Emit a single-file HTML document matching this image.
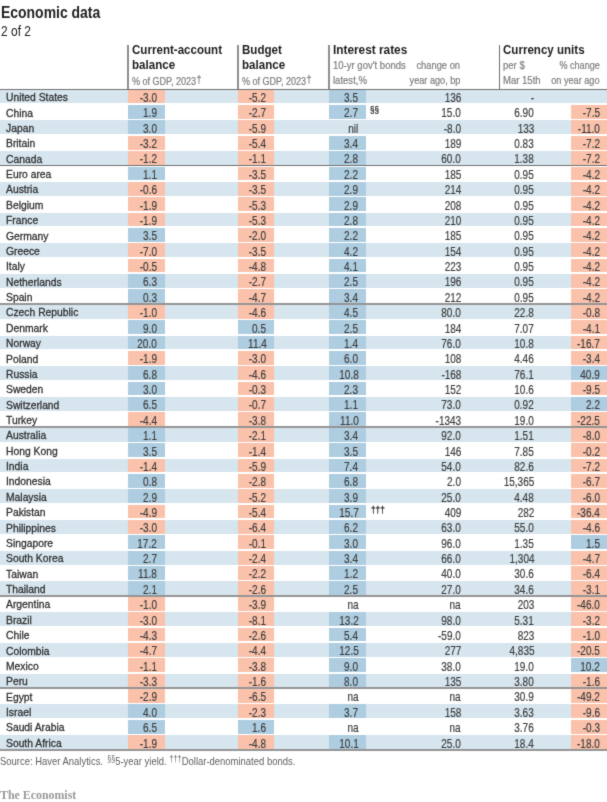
<!DOCTYPE html>
<html><head><meta charset="utf-8"><style>
html,body{margin:0;padding:0;background:#fff;}
body{width:607px;height:802px;overflow:hidden;position:relative;font-family:"Liberation Sans",sans-serif;color:#2e2e2e;}
.a{position:absolute;white-space:nowrap;}
.t{position:absolute;white-space:nowrap;line-height:1;}
.r{position:absolute;left:0;width:607px;height:13.75px;}
.s{background:#d6e5ee;}
.c{position:absolute;top:0;height:13.75px;}
.d{position:absolute;white-space:nowrap;font-size:11.8px;line-height:1;top:0;-webkit-text-stroke:0.3px #2e2e2e;}
.R{transform-origin:100% 0;}
.L{transform-origin:0 0;}
.n{font-size:12.2px;color:#3c3c3c;transform:scaleX(0.82);-webkit-text-stroke:0.18px #3c3c3c;}
.vl{position:absolute;width:1.3px;background:#7d7d7d;}
.hl{position:absolute;left:0;width:607px;background:#7d7d7d;}
.gl{position:absolute;left:0;width:607px;height:1px;background:#6a6a6a;}
.bl{position:absolute;left:0;width:607px;height:2px;background:#959595;}
.hd{font-weight:bold;font-size:12.5px;line-height:14px;color:#1e1e1e;}
.sub{color:#7c7c7c;font-size:10.5px;-webkit-text-stroke:0.2px #7c7c7c;}
</style></head><body><svg width="0" height="0" style="position:absolute"><filter id="sf" x="0" y="0" width="100%" height="100%" color-interpolation-filters="sRGB"><feConvolveMatrix order="3" kernelMatrix="0.02 0.08 0.02 0.08 0.6 0.08 0.02 0.08 0.02" edgeMode="duplicate"/></filter></svg><div id="wrap" style="position:absolute;left:0;top:0;width:607px;height:802px;background:#fff;filter:url(#sf)">

<div class="t L" style="left:0.6px;top:5.2px;font-weight:bold;font-size:16px;color:#222;transform:scaleX(0.872)">Economic data</div>
<div class="t L" style="left:0.8px;top:25.3px;font-size:13.8px;color:#222;transform:scaleX(0.87)">2 of 2</div>
<div class="vl" style="left:127px;width:2px;background:#8f8f8f;top:45px;height:44px"></div>
<div class="vl" style="left:237px;width:2px;background:#8f8f8f;top:45px;height:44px"></div>
<div class="vl" style="left:328px;width:2px;background:#8f8f8f;top:45px;height:44px"></div>
<div class="vl" style="left:499px;width:1px;background:#707070;top:45px;height:44px"></div>
<div class="t L hd" style="left:132.4px;top:43.4px;transform:scaleX(0.926)">Current-account</div>
<div class="t L hd" style="left:132.4px;top:57.6px;transform:scaleX(0.926)">balance</div>
<div class="t L sub" style="left:132.4px;top:73.8px;transform:scaleX(0.86)">% of GDP, 2023<span style="font-size:10.5px;vertical-align:2px;margin-left:0.6px">†</span></div>
<div class="t L hd" style="left:241.7px;top:43.4px;transform:scaleX(0.926)">Budget</div>
<div class="t L hd" style="left:241.7px;top:57.6px;transform:scaleX(0.926)">balance</div>
<div class="t L sub" style="left:241.7px;top:73.8px;transform:scaleX(0.86)">% of GDP, 2023<span style="font-size:10.5px;vertical-align:2px;margin-left:0.6px">†</span></div>
<div class="t L hd" style="left:332.7px;top:43.3px;transform:scaleX(0.946)">Interest rates</div>
<div class="t L sub" style="left:333px;top:59.8px;transform:scaleX(0.908)">10-yr gov't bonds</div>
<div class="t L sub" style="left:333px;top:75px;transform:scaleX(0.908)">latest,%</div>
<div class="t R sub" style="right:146.60000000000002px;top:59.8px;transform:scaleX(0.89)">change on</div>
<div class="t R sub" style="right:146.60000000000002px;top:75px;transform:scaleX(0.87)">year ago, bp</div>
<div class="t L hd" style="left:503.1px;top:43.3px;transform:scaleX(0.925)">Currency units</div>
<div class="t L sub" style="left:503.3px;top:59.8px;transform:scaleX(0.908)">per $</div>
<div class="t L sub" style="left:503.3px;top:75px;transform:scaleX(0.908)">Mar 15th</div>
<div class="t R sub" style="right:7.2999999999999545px;top:59.8px;transform:scaleX(0.86)">% change</div>
<div class="t R sub" style="right:7.2999999999999545px;top:75.3px;transform:scaleX(0.87)">on year ago</div>
<div class="r s" style="top:89.65px">
<div class="c" style="left:127.8px;width:37.2px;background:#fac2ab"></div>
<div class="c" style="left:237.6px;width:36.5px;background:#fac2ab"></div>
<div class="c" style="left:329.2px;width:36.5px;background:#aecde0"></div>
<div class="d L" style="left:6.1px;top:2.6px;transform:scaleX(0.875)">United States</div>
<div class="d R n" style="right:449.8px;top:2.35px">-3.0</div>
<div class="d R n" style="right:340.6px;top:2.35px">-5.2</div>
<div class="d R n" style="right:248.6px;top:2.35px">3.5</div>
<div class="d R n" style="right:146.0px;top:2.35px">136</div>
<div class="d R n" style="right:73.0px;top:2.35px">-</div>
</div>
<div class="r" style="top:105.02px">
<div class="c" style="left:127.8px;width:37.2px;background:#aecde0"></div>
<div class="c" style="left:237.6px;width:36.5px;background:#fac2ab"></div>
<div class="c" style="left:329.2px;width:36.5px;background:#aecde0"></div>
<div class="c" style="left:570.6px;width:36.4px;background:#fac2ab"></div>
<div class="d L" style="left:6.1px;top:2.6px;transform:scaleX(0.875)">China</div>
<div class="d R n" style="right:449.8px;top:2.35px">1.9</div>
<div class="d R n" style="right:340.6px;top:2.35px">-2.7</div>
<div class="d R n" style="right:248.6px;top:2.35px">2.7</div>
<div class="d L" style="left:370.3px;top:0.2px;font-size:9.5px;transform:scaleX(0.85)">§§</div>
<div class="d R n" style="right:146.0px;top:2.35px">15.0</div>
<div class="d R n" style="right:73.0px;top:2.35px">6.90</div>
<div class="d R n" style="right:7.2px;top:2.35px">-7.5</div>
</div>
<div class="r s" style="top:120.39px">
<div class="c" style="left:127.8px;width:37.2px;background:#aecde0"></div>
<div class="c" style="left:237.6px;width:36.5px;background:#fac2ab"></div>
<div class="c" style="left:570.6px;width:36.4px;background:#fac2ab"></div>
<div class="d L" style="left:6.1px;top:2.6px;transform:scaleX(0.875)">Japan</div>
<div class="d R n" style="right:449.8px;top:2.35px">3.0</div>
<div class="d R n" style="right:340.6px;top:2.35px">-5.9</div>
<div class="d R n" style="right:248.6px;top:2.35px">nil</div>
<div class="d R n" style="right:146.0px;top:2.35px">-8.0</div>
<div class="d R n" style="right:73.0px;top:2.35px">133</div>
<div class="d R n" style="right:7.2px;top:2.35px">-11.0</div>
</div>
<div class="r" style="top:135.76px">
<div class="c" style="left:127.8px;width:37.2px;background:#fac2ab"></div>
<div class="c" style="left:237.6px;width:36.5px;background:#fac2ab"></div>
<div class="c" style="left:329.2px;width:36.5px;background:#aecde0"></div>
<div class="c" style="left:570.6px;width:36.4px;background:#fac2ab"></div>
<div class="d L" style="left:6.1px;top:2.6px;transform:scaleX(0.875)">Britain</div>
<div class="d R n" style="right:449.8px;top:2.35px">-3.2</div>
<div class="d R n" style="right:340.6px;top:2.35px">-5.4</div>
<div class="d R n" style="right:248.6px;top:2.35px">3.4</div>
<div class="d R n" style="right:146.0px;top:2.35px">189</div>
<div class="d R n" style="right:73.0px;top:2.35px">0.83</div>
<div class="d R n" style="right:7.2px;top:2.35px">-7.2</div>
</div>
<div class="r s" style="top:151.13px">
<div class="c" style="left:127.8px;width:37.2px;background:#fac2ab"></div>
<div class="c" style="left:237.6px;width:36.5px;background:#fac2ab"></div>
<div class="c" style="left:329.2px;width:36.5px;background:#aecde0"></div>
<div class="c" style="left:570.6px;width:36.4px;background:#fac2ab"></div>
<div class="d L" style="left:6.1px;top:2.6px;transform:scaleX(0.875)">Canada</div>
<div class="d R n" style="right:449.8px;top:2.35px">-1.2</div>
<div class="d R n" style="right:340.6px;top:2.35px">-1.1</div>
<div class="d R n" style="right:248.6px;top:2.35px">2.8</div>
<div class="d R n" style="right:146.0px;top:2.35px">60.0</div>
<div class="d R n" style="right:73.0px;top:2.35px">1.38</div>
<div class="d R n" style="right:7.2px;top:2.35px">-7.2</div>
</div>
<div class="r" style="top:166.50px">
<div class="c" style="left:127.8px;width:37.2px;background:#aecde0"></div>
<div class="c" style="left:237.6px;width:36.5px;background:#fac2ab"></div>
<div class="c" style="left:329.2px;width:36.5px;background:#aecde0"></div>
<div class="c" style="left:570.6px;width:36.4px;background:#fac2ab"></div>
<div class="d L" style="left:6.1px;top:2.6px;transform:scaleX(0.875)">Euro area</div>
<div class="d R n" style="right:449.8px;top:2.35px">1.1</div>
<div class="d R n" style="right:340.6px;top:2.35px">-3.5</div>
<div class="d R n" style="right:248.6px;top:2.35px">2.2</div>
<div class="d R n" style="right:146.0px;top:2.35px">185</div>
<div class="d R n" style="right:73.0px;top:2.35px">0.95</div>
<div class="d R n" style="right:7.2px;top:2.35px">-4.2</div>
</div>
<div class="r s" style="top:181.87px">
<div class="c" style="left:127.8px;width:37.2px;background:#fac2ab"></div>
<div class="c" style="left:237.6px;width:36.5px;background:#fac2ab"></div>
<div class="c" style="left:329.2px;width:36.5px;background:#aecde0"></div>
<div class="c" style="left:570.6px;width:36.4px;background:#fac2ab"></div>
<div class="d L" style="left:6.1px;top:2.6px;transform:scaleX(0.875)">Austria</div>
<div class="d R n" style="right:449.8px;top:2.35px">-0.6</div>
<div class="d R n" style="right:340.6px;top:2.35px">-3.5</div>
<div class="d R n" style="right:248.6px;top:2.35px">2.9</div>
<div class="d R n" style="right:146.0px;top:2.35px">214</div>
<div class="d R n" style="right:73.0px;top:2.35px">0.95</div>
<div class="d R n" style="right:7.2px;top:2.35px">-4.2</div>
</div>
<div class="r" style="top:197.24px">
<div class="c" style="left:127.8px;width:37.2px;background:#fac2ab"></div>
<div class="c" style="left:237.6px;width:36.5px;background:#fac2ab"></div>
<div class="c" style="left:329.2px;width:36.5px;background:#aecde0"></div>
<div class="c" style="left:570.6px;width:36.4px;background:#fac2ab"></div>
<div class="d L" style="left:6.1px;top:2.6px;transform:scaleX(0.875)">Belgium</div>
<div class="d R n" style="right:449.8px;top:2.35px">-1.9</div>
<div class="d R n" style="right:340.6px;top:2.35px">-5.3</div>
<div class="d R n" style="right:248.6px;top:2.35px">2.9</div>
<div class="d R n" style="right:146.0px;top:2.35px">208</div>
<div class="d R n" style="right:73.0px;top:2.35px">0.95</div>
<div class="d R n" style="right:7.2px;top:2.35px">-4.2</div>
</div>
<div class="r s" style="top:212.61px">
<div class="c" style="left:127.8px;width:37.2px;background:#fac2ab"></div>
<div class="c" style="left:237.6px;width:36.5px;background:#fac2ab"></div>
<div class="c" style="left:329.2px;width:36.5px;background:#aecde0"></div>
<div class="c" style="left:570.6px;width:36.4px;background:#fac2ab"></div>
<div class="d L" style="left:6.1px;top:2.6px;transform:scaleX(0.875)">France</div>
<div class="d R n" style="right:449.8px;top:2.35px">-1.9</div>
<div class="d R n" style="right:340.6px;top:2.35px">-5.3</div>
<div class="d R n" style="right:248.6px;top:2.35px">2.8</div>
<div class="d R n" style="right:146.0px;top:2.35px">210</div>
<div class="d R n" style="right:73.0px;top:2.35px">0.95</div>
<div class="d R n" style="right:7.2px;top:2.35px">-4.2</div>
</div>
<div class="r" style="top:227.98px">
<div class="c" style="left:127.8px;width:37.2px;background:#aecde0"></div>
<div class="c" style="left:237.6px;width:36.5px;background:#fac2ab"></div>
<div class="c" style="left:329.2px;width:36.5px;background:#aecde0"></div>
<div class="c" style="left:570.6px;width:36.4px;background:#fac2ab"></div>
<div class="d L" style="left:6.1px;top:2.6px;transform:scaleX(0.875)">Germany</div>
<div class="d R n" style="right:449.8px;top:2.35px">3.5</div>
<div class="d R n" style="right:340.6px;top:2.35px">-2.0</div>
<div class="d R n" style="right:248.6px;top:2.35px">2.2</div>
<div class="d R n" style="right:146.0px;top:2.35px">185</div>
<div class="d R n" style="right:73.0px;top:2.35px">0.95</div>
<div class="d R n" style="right:7.2px;top:2.35px">-4.2</div>
</div>
<div class="r s" style="top:243.35px">
<div class="c" style="left:127.8px;width:37.2px;background:#fac2ab"></div>
<div class="c" style="left:237.6px;width:36.5px;background:#fac2ab"></div>
<div class="c" style="left:329.2px;width:36.5px;background:#aecde0"></div>
<div class="c" style="left:570.6px;width:36.4px;background:#fac2ab"></div>
<div class="d L" style="left:6.1px;top:2.6px;transform:scaleX(0.875)">Greece</div>
<div class="d R n" style="right:449.8px;top:2.35px">-7.0</div>
<div class="d R n" style="right:340.6px;top:2.35px">-3.5</div>
<div class="d R n" style="right:248.6px;top:2.35px">4.2</div>
<div class="d R n" style="right:146.0px;top:2.35px">154</div>
<div class="d R n" style="right:73.0px;top:2.35px">0.95</div>
<div class="d R n" style="right:7.2px;top:2.35px">-4.2</div>
</div>
<div class="r" style="top:258.72px">
<div class="c" style="left:127.8px;width:37.2px;background:#fac2ab"></div>
<div class="c" style="left:237.6px;width:36.5px;background:#fac2ab"></div>
<div class="c" style="left:329.2px;width:36.5px;background:#aecde0"></div>
<div class="c" style="left:570.6px;width:36.4px;background:#fac2ab"></div>
<div class="d L" style="left:6.1px;top:2.6px;transform:scaleX(0.875)">Italy</div>
<div class="d R n" style="right:449.8px;top:2.35px">-0.5</div>
<div class="d R n" style="right:340.6px;top:2.35px">-4.8</div>
<div class="d R n" style="right:248.6px;top:2.35px">4.1</div>
<div class="d R n" style="right:146.0px;top:2.35px">223</div>
<div class="d R n" style="right:73.0px;top:2.35px">0.95</div>
<div class="d R n" style="right:7.2px;top:2.35px">-4.2</div>
</div>
<div class="r s" style="top:274.09px">
<div class="c" style="left:127.8px;width:37.2px;background:#aecde0"></div>
<div class="c" style="left:237.6px;width:36.5px;background:#fac2ab"></div>
<div class="c" style="left:329.2px;width:36.5px;background:#aecde0"></div>
<div class="c" style="left:570.6px;width:36.4px;background:#fac2ab"></div>
<div class="d L" style="left:6.1px;top:2.6px;transform:scaleX(0.875)">Netherlands</div>
<div class="d R n" style="right:449.8px;top:2.35px">6.3</div>
<div class="d R n" style="right:340.6px;top:2.35px">-2.7</div>
<div class="d R n" style="right:248.6px;top:2.35px">2.5</div>
<div class="d R n" style="right:146.0px;top:2.35px">196</div>
<div class="d R n" style="right:73.0px;top:2.35px">0.95</div>
<div class="d R n" style="right:7.2px;top:2.35px">-4.2</div>
</div>
<div class="r" style="top:289.46px">
<div class="c" style="left:127.8px;width:37.2px;background:#aecde0"></div>
<div class="c" style="left:237.6px;width:36.5px;background:#fac2ab"></div>
<div class="c" style="left:329.2px;width:36.5px;background:#aecde0"></div>
<div class="c" style="left:570.6px;width:36.4px;background:#fac2ab"></div>
<div class="d L" style="left:6.1px;top:2.6px;transform:scaleX(0.875)">Spain</div>
<div class="d R n" style="right:449.8px;top:2.35px">0.3</div>
<div class="d R n" style="right:340.6px;top:2.35px">-4.7</div>
<div class="d R n" style="right:248.6px;top:2.35px">3.4</div>
<div class="d R n" style="right:146.0px;top:2.35px">212</div>
<div class="d R n" style="right:73.0px;top:2.35px">0.95</div>
<div class="d R n" style="right:7.2px;top:2.35px">-4.2</div>
</div>
<div class="r s" style="top:304.83px">
<div class="c" style="left:127.8px;width:37.2px;background:#fac2ab"></div>
<div class="c" style="left:237.6px;width:36.5px;background:#fac2ab"></div>
<div class="c" style="left:329.2px;width:36.5px;background:#aecde0"></div>
<div class="c" style="left:570.6px;width:36.4px;background:#fac2ab"></div>
<div class="d L" style="left:6.1px;top:2.6px;transform:scaleX(0.875)">Czech Republic</div>
<div class="d R n" style="right:449.8px;top:2.35px">-1.0</div>
<div class="d R n" style="right:340.6px;top:2.35px">-4.6</div>
<div class="d R n" style="right:248.6px;top:2.35px">4.5</div>
<div class="d R n" style="right:146.0px;top:2.35px">80.0</div>
<div class="d R n" style="right:73.0px;top:2.35px">22.8</div>
<div class="d R n" style="right:7.2px;top:2.35px">-0.8</div>
</div>
<div class="r" style="top:320.20px">
<div class="c" style="left:127.8px;width:37.2px;background:#aecde0"></div>
<div class="c" style="left:237.6px;width:36.5px;background:#aecde0"></div>
<div class="c" style="left:329.2px;width:36.5px;background:#aecde0"></div>
<div class="c" style="left:570.6px;width:36.4px;background:#fac2ab"></div>
<div class="d L" style="left:6.1px;top:2.6px;transform:scaleX(0.875)">Denmark</div>
<div class="d R n" style="right:449.8px;top:2.35px">9.0</div>
<div class="d R n" style="right:340.6px;top:2.35px">0.5</div>
<div class="d R n" style="right:248.6px;top:2.35px">2.5</div>
<div class="d R n" style="right:146.0px;top:2.35px">184</div>
<div class="d R n" style="right:73.0px;top:2.35px">7.07</div>
<div class="d R n" style="right:7.2px;top:2.35px">-4.1</div>
</div>
<div class="r s" style="top:335.57px">
<div class="c" style="left:127.8px;width:37.2px;background:#aecde0"></div>
<div class="c" style="left:237.6px;width:36.5px;background:#aecde0"></div>
<div class="c" style="left:329.2px;width:36.5px;background:#aecde0"></div>
<div class="c" style="left:570.6px;width:36.4px;background:#fac2ab"></div>
<div class="d L" style="left:6.1px;top:2.6px;transform:scaleX(0.875)">Norway</div>
<div class="d R n" style="right:449.8px;top:2.35px">20.0</div>
<div class="d R n" style="right:340.6px;top:2.35px">11.4</div>
<div class="d R n" style="right:248.6px;top:2.35px">1.4</div>
<div class="d R n" style="right:146.0px;top:2.35px">76.0</div>
<div class="d R n" style="right:73.0px;top:2.35px">10.8</div>
<div class="d R n" style="right:7.2px;top:2.35px">-16.7</div>
</div>
<div class="r" style="top:350.94px">
<div class="c" style="left:127.8px;width:37.2px;background:#fac2ab"></div>
<div class="c" style="left:237.6px;width:36.5px;background:#fac2ab"></div>
<div class="c" style="left:329.2px;width:36.5px;background:#aecde0"></div>
<div class="c" style="left:570.6px;width:36.4px;background:#fac2ab"></div>
<div class="d L" style="left:6.1px;top:2.6px;transform:scaleX(0.875)">Poland</div>
<div class="d R n" style="right:449.8px;top:2.35px">-1.9</div>
<div class="d R n" style="right:340.6px;top:2.35px">-3.0</div>
<div class="d R n" style="right:248.6px;top:2.35px">6.0</div>
<div class="d R n" style="right:146.0px;top:2.35px">108</div>
<div class="d R n" style="right:73.0px;top:2.35px">4.46</div>
<div class="d R n" style="right:7.2px;top:2.35px">-3.4</div>
</div>
<div class="r s" style="top:366.31px">
<div class="c" style="left:127.8px;width:37.2px;background:#aecde0"></div>
<div class="c" style="left:237.6px;width:36.5px;background:#fac2ab"></div>
<div class="c" style="left:329.2px;width:36.5px;background:#aecde0"></div>
<div class="c" style="left:570.6px;width:36.4px;background:#aecde0"></div>
<div class="d L" style="left:6.1px;top:2.6px;transform:scaleX(0.875)">Russia</div>
<div class="d R n" style="right:449.8px;top:2.35px">6.8</div>
<div class="d R n" style="right:340.6px;top:2.35px">-4.6</div>
<div class="d R n" style="right:248.6px;top:2.35px">10.8</div>
<div class="d R n" style="right:146.0px;top:2.35px">-168</div>
<div class="d R n" style="right:73.0px;top:2.35px">76.1</div>
<div class="d R n" style="right:7.2px;top:2.35px">40.9</div>
</div>
<div class="r" style="top:381.68px">
<div class="c" style="left:127.8px;width:37.2px;background:#aecde0"></div>
<div class="c" style="left:237.6px;width:36.5px;background:#fac2ab"></div>
<div class="c" style="left:329.2px;width:36.5px;background:#aecde0"></div>
<div class="c" style="left:570.6px;width:36.4px;background:#fac2ab"></div>
<div class="d L" style="left:6.1px;top:2.6px;transform:scaleX(0.875)">Sweden</div>
<div class="d R n" style="right:449.8px;top:2.35px">3.0</div>
<div class="d R n" style="right:340.6px;top:2.35px">-0.3</div>
<div class="d R n" style="right:248.6px;top:2.35px">2.3</div>
<div class="d R n" style="right:146.0px;top:2.35px">152</div>
<div class="d R n" style="right:73.0px;top:2.35px">10.6</div>
<div class="d R n" style="right:7.2px;top:2.35px">-9.5</div>
</div>
<div class="r s" style="top:397.05px">
<div class="c" style="left:127.8px;width:37.2px;background:#aecde0"></div>
<div class="c" style="left:237.6px;width:36.5px;background:#fac2ab"></div>
<div class="c" style="left:329.2px;width:36.5px;background:#aecde0"></div>
<div class="c" style="left:570.6px;width:36.4px;background:#aecde0"></div>
<div class="d L" style="left:6.1px;top:2.6px;transform:scaleX(0.875)">Switzerland</div>
<div class="d R n" style="right:449.8px;top:2.35px">6.5</div>
<div class="d R n" style="right:340.6px;top:2.35px">-0.7</div>
<div class="d R n" style="right:248.6px;top:2.35px">1.1</div>
<div class="d R n" style="right:146.0px;top:2.35px">73.0</div>
<div class="d R n" style="right:73.0px;top:2.35px">0.92</div>
<div class="d R n" style="right:7.2px;top:2.35px">2.2</div>
</div>
<div class="r" style="top:412.42px">
<div class="c" style="left:127.8px;width:37.2px;background:#fac2ab"></div>
<div class="c" style="left:237.6px;width:36.5px;background:#fac2ab"></div>
<div class="c" style="left:329.2px;width:36.5px;background:#aecde0"></div>
<div class="c" style="left:570.6px;width:36.4px;background:#fac2ab"></div>
<div class="d L" style="left:6.1px;top:2.6px;transform:scaleX(0.875)">Turkey</div>
<div class="d R n" style="right:449.8px;top:2.35px">-4.4</div>
<div class="d R n" style="right:340.6px;top:2.35px">-3.8</div>
<div class="d R n" style="right:248.6px;top:2.35px">11.0</div>
<div class="d R n" style="right:146.0px;top:2.35px">-1343</div>
<div class="d R n" style="right:73.0px;top:2.35px">19.0</div>
<div class="d R n" style="right:7.2px;top:2.35px">-22.5</div>
</div>
<div class="r s" style="top:427.79px">
<div class="c" style="left:127.8px;width:37.2px;background:#aecde0"></div>
<div class="c" style="left:237.6px;width:36.5px;background:#fac2ab"></div>
<div class="c" style="left:329.2px;width:36.5px;background:#aecde0"></div>
<div class="c" style="left:570.6px;width:36.4px;background:#fac2ab"></div>
<div class="d L" style="left:6.1px;top:2.6px;transform:scaleX(0.875)">Australia</div>
<div class="d R n" style="right:449.8px;top:2.35px">1.1</div>
<div class="d R n" style="right:340.6px;top:2.35px">-2.1</div>
<div class="d R n" style="right:248.6px;top:2.35px">3.4</div>
<div class="d R n" style="right:146.0px;top:2.35px">92.0</div>
<div class="d R n" style="right:73.0px;top:2.35px">1.51</div>
<div class="d R n" style="right:7.2px;top:2.35px">-8.0</div>
</div>
<div class="r" style="top:443.16px">
<div class="c" style="left:127.8px;width:37.2px;background:#aecde0"></div>
<div class="c" style="left:237.6px;width:36.5px;background:#fac2ab"></div>
<div class="c" style="left:329.2px;width:36.5px;background:#aecde0"></div>
<div class="c" style="left:570.6px;width:36.4px;background:#fac2ab"></div>
<div class="d L" style="left:6.1px;top:2.6px;transform:scaleX(0.875)">Hong Kong</div>
<div class="d R n" style="right:449.8px;top:2.35px">3.5</div>
<div class="d R n" style="right:340.6px;top:2.35px">-1.4</div>
<div class="d R n" style="right:248.6px;top:2.35px">3.5</div>
<div class="d R n" style="right:146.0px;top:2.35px">146</div>
<div class="d R n" style="right:73.0px;top:2.35px">7.85</div>
<div class="d R n" style="right:7.2px;top:2.35px">-0.2</div>
</div>
<div class="r s" style="top:458.53px">
<div class="c" style="left:127.8px;width:37.2px;background:#fac2ab"></div>
<div class="c" style="left:237.6px;width:36.5px;background:#fac2ab"></div>
<div class="c" style="left:329.2px;width:36.5px;background:#aecde0"></div>
<div class="c" style="left:570.6px;width:36.4px;background:#fac2ab"></div>
<div class="d L" style="left:6.1px;top:2.6px;transform:scaleX(0.875)">India</div>
<div class="d R n" style="right:449.8px;top:2.35px">-1.4</div>
<div class="d R n" style="right:340.6px;top:2.35px">-5.9</div>
<div class="d R n" style="right:248.6px;top:2.35px">7.4</div>
<div class="d R n" style="right:146.0px;top:2.35px">54.0</div>
<div class="d R n" style="right:73.0px;top:2.35px">82.6</div>
<div class="d R n" style="right:7.2px;top:2.35px">-7.2</div>
</div>
<div class="r" style="top:473.90px">
<div class="c" style="left:127.8px;width:37.2px;background:#aecde0"></div>
<div class="c" style="left:237.6px;width:36.5px;background:#fac2ab"></div>
<div class="c" style="left:329.2px;width:36.5px;background:#aecde0"></div>
<div class="c" style="left:570.6px;width:36.4px;background:#fac2ab"></div>
<div class="d L" style="left:6.1px;top:2.6px;transform:scaleX(0.875)">Indonesia</div>
<div class="d R n" style="right:449.8px;top:2.35px">0.8</div>
<div class="d R n" style="right:340.6px;top:2.35px">-2.8</div>
<div class="d R n" style="right:248.6px;top:2.35px">6.8</div>
<div class="d R n" style="right:146.0px;top:2.35px">2.0</div>
<div class="d R n" style="right:73.0px;top:2.35px">15,365</div>
<div class="d R n" style="right:7.2px;top:2.35px">-6.7</div>
</div>
<div class="r s" style="top:489.27px">
<div class="c" style="left:127.8px;width:37.2px;background:#aecde0"></div>
<div class="c" style="left:237.6px;width:36.5px;background:#fac2ab"></div>
<div class="c" style="left:329.2px;width:36.5px;background:#aecde0"></div>
<div class="c" style="left:570.6px;width:36.4px;background:#fac2ab"></div>
<div class="d L" style="left:6.1px;top:2.6px;transform:scaleX(0.875)">Malaysia</div>
<div class="d R n" style="right:449.8px;top:2.35px">2.9</div>
<div class="d R n" style="right:340.6px;top:2.35px">-5.2</div>
<div class="d R n" style="right:248.6px;top:2.35px">3.9</div>
<div class="d R n" style="right:146.0px;top:2.35px">25.0</div>
<div class="d R n" style="right:73.0px;top:2.35px">4.48</div>
<div class="d R n" style="right:7.2px;top:2.35px">-6.0</div>
</div>
<div class="r" style="top:504.64px">
<div class="c" style="left:127.8px;width:37.2px;background:#fac2ab"></div>
<div class="c" style="left:237.6px;width:36.5px;background:#fac2ab"></div>
<div class="c" style="left:329.2px;width:36.5px;background:#aecde0"></div>
<div class="c" style="left:570.6px;width:36.4px;background:#fac2ab"></div>
<div class="d L" style="left:6.1px;top:2.6px;transform:scaleX(0.875)">Pakistan</div>
<div class="d R n" style="right:449.8px;top:2.35px">-4.9</div>
<div class="d R n" style="right:340.6px;top:2.35px">-5.4</div>
<div class="d R n" style="right:248.6px;top:2.35px">15.7</div>
<div class="d L" style="left:370.8px;top:1.6px;font-size:9.2px;transform:scaleX(0.9)">†††</div>
<div class="d R n" style="right:146.0px;top:2.35px">409</div>
<div class="d R n" style="right:73.0px;top:2.35px">282</div>
<div class="d R n" style="right:7.2px;top:2.35px">-36.4</div>
</div>
<div class="r s" style="top:520.01px">
<div class="c" style="left:127.8px;width:37.2px;background:#fac2ab"></div>
<div class="c" style="left:237.6px;width:36.5px;background:#fac2ab"></div>
<div class="c" style="left:329.2px;width:36.5px;background:#aecde0"></div>
<div class="c" style="left:570.6px;width:36.4px;background:#fac2ab"></div>
<div class="d L" style="left:6.1px;top:2.6px;transform:scaleX(0.875)">Philippines</div>
<div class="d R n" style="right:449.8px;top:2.35px">-3.0</div>
<div class="d R n" style="right:340.6px;top:2.35px">-6.4</div>
<div class="d R n" style="right:248.6px;top:2.35px">6.2</div>
<div class="d R n" style="right:146.0px;top:2.35px">63.0</div>
<div class="d R n" style="right:73.0px;top:2.35px">55.0</div>
<div class="d R n" style="right:7.2px;top:2.35px">-4.6</div>
</div>
<div class="r" style="top:535.38px">
<div class="c" style="left:127.8px;width:37.2px;background:#aecde0"></div>
<div class="c" style="left:237.6px;width:36.5px;background:#fac2ab"></div>
<div class="c" style="left:329.2px;width:36.5px;background:#aecde0"></div>
<div class="c" style="left:570.6px;width:36.4px;background:#aecde0"></div>
<div class="d L" style="left:6.1px;top:2.6px;transform:scaleX(0.875)">Singapore</div>
<div class="d R n" style="right:449.8px;top:2.35px">17.2</div>
<div class="d R n" style="right:340.6px;top:2.35px">-0.1</div>
<div class="d R n" style="right:248.6px;top:2.35px">3.0</div>
<div class="d R n" style="right:146.0px;top:2.35px">96.0</div>
<div class="d R n" style="right:73.0px;top:2.35px">1.35</div>
<div class="d R n" style="right:7.2px;top:2.35px">1.5</div>
</div>
<div class="r s" style="top:550.75px">
<div class="c" style="left:127.8px;width:37.2px;background:#aecde0"></div>
<div class="c" style="left:237.6px;width:36.5px;background:#fac2ab"></div>
<div class="c" style="left:329.2px;width:36.5px;background:#aecde0"></div>
<div class="c" style="left:570.6px;width:36.4px;background:#fac2ab"></div>
<div class="d L" style="left:6.1px;top:2.6px;transform:scaleX(0.875)">South Korea</div>
<div class="d R n" style="right:449.8px;top:2.35px">2.7</div>
<div class="d R n" style="right:340.6px;top:2.35px">-2.4</div>
<div class="d R n" style="right:248.6px;top:2.35px">3.4</div>
<div class="d R n" style="right:146.0px;top:2.35px">66.0</div>
<div class="d R n" style="right:73.0px;top:2.35px">1,304</div>
<div class="d R n" style="right:7.2px;top:2.35px">-4.7</div>
</div>
<div class="r" style="top:566.12px">
<div class="c" style="left:127.8px;width:37.2px;background:#aecde0"></div>
<div class="c" style="left:237.6px;width:36.5px;background:#fac2ab"></div>
<div class="c" style="left:329.2px;width:36.5px;background:#aecde0"></div>
<div class="c" style="left:570.6px;width:36.4px;background:#fac2ab"></div>
<div class="d L" style="left:6.1px;top:2.6px;transform:scaleX(0.875)">Taiwan</div>
<div class="d R n" style="right:449.8px;top:2.35px">11.8</div>
<div class="d R n" style="right:340.6px;top:2.35px">-2.2</div>
<div class="d R n" style="right:248.6px;top:2.35px">1.2</div>
<div class="d R n" style="right:146.0px;top:2.35px">40.0</div>
<div class="d R n" style="right:73.0px;top:2.35px">30.6</div>
<div class="d R n" style="right:7.2px;top:2.35px">-6.4</div>
</div>
<div class="r s" style="top:581.49px">
<div class="c" style="left:127.8px;width:37.2px;background:#aecde0"></div>
<div class="c" style="left:237.6px;width:36.5px;background:#fac2ab"></div>
<div class="c" style="left:329.2px;width:36.5px;background:#aecde0"></div>
<div class="c" style="left:570.6px;width:36.4px;background:#fac2ab"></div>
<div class="d L" style="left:6.1px;top:2.6px;transform:scaleX(0.875)">Thailand</div>
<div class="d R n" style="right:449.8px;top:2.35px">2.1</div>
<div class="d R n" style="right:340.6px;top:2.35px">-2.6</div>
<div class="d R n" style="right:248.6px;top:2.35px">2.5</div>
<div class="d R n" style="right:146.0px;top:2.35px">27.0</div>
<div class="d R n" style="right:73.0px;top:2.35px">34.6</div>
<div class="d R n" style="right:7.2px;top:2.35px">-3.1</div>
</div>
<div class="r" style="top:596.86px">
<div class="c" style="left:127.8px;width:37.2px;background:#fac2ab"></div>
<div class="c" style="left:237.6px;width:36.5px;background:#fac2ab"></div>
<div class="c" style="left:570.6px;width:36.4px;background:#fac2ab"></div>
<div class="d L" style="left:6.1px;top:2.6px;transform:scaleX(0.875)">Argentina</div>
<div class="d R n" style="right:449.8px;top:2.35px">-1.0</div>
<div class="d R n" style="right:340.6px;top:2.35px">-3.9</div>
<div class="d R n" style="right:248.6px;top:2.35px">na</div>
<div class="d R n" style="right:146.0px;top:2.35px">na</div>
<div class="d R n" style="right:73.0px;top:2.35px">203</div>
<div class="d R n" style="right:7.2px;top:2.35px">-46.0</div>
</div>
<div class="r s" style="top:612.23px">
<div class="c" style="left:127.8px;width:37.2px;background:#fac2ab"></div>
<div class="c" style="left:237.6px;width:36.5px;background:#fac2ab"></div>
<div class="c" style="left:329.2px;width:36.5px;background:#aecde0"></div>
<div class="c" style="left:570.6px;width:36.4px;background:#fac2ab"></div>
<div class="d L" style="left:6.1px;top:2.6px;transform:scaleX(0.875)">Brazil</div>
<div class="d R n" style="right:449.8px;top:2.35px">-3.0</div>
<div class="d R n" style="right:340.6px;top:2.35px">-8.1</div>
<div class="d R n" style="right:248.6px;top:2.35px">13.2</div>
<div class="d R n" style="right:146.0px;top:2.35px">98.0</div>
<div class="d R n" style="right:73.0px;top:2.35px">5.31</div>
<div class="d R n" style="right:7.2px;top:2.35px">-3.2</div>
</div>
<div class="r" style="top:627.60px">
<div class="c" style="left:127.8px;width:37.2px;background:#fac2ab"></div>
<div class="c" style="left:237.6px;width:36.5px;background:#fac2ab"></div>
<div class="c" style="left:329.2px;width:36.5px;background:#aecde0"></div>
<div class="c" style="left:570.6px;width:36.4px;background:#fac2ab"></div>
<div class="d L" style="left:6.1px;top:2.6px;transform:scaleX(0.875)">Chile</div>
<div class="d R n" style="right:449.8px;top:2.35px">-4.3</div>
<div class="d R n" style="right:340.6px;top:2.35px">-2.6</div>
<div class="d R n" style="right:248.6px;top:2.35px">5.4</div>
<div class="d R n" style="right:146.0px;top:2.35px">-59.0</div>
<div class="d R n" style="right:73.0px;top:2.35px">823</div>
<div class="d R n" style="right:7.2px;top:2.35px">-1.0</div>
</div>
<div class="r s" style="top:642.97px">
<div class="c" style="left:127.8px;width:37.2px;background:#fac2ab"></div>
<div class="c" style="left:237.6px;width:36.5px;background:#fac2ab"></div>
<div class="c" style="left:329.2px;width:36.5px;background:#aecde0"></div>
<div class="c" style="left:570.6px;width:36.4px;background:#fac2ab"></div>
<div class="d L" style="left:6.1px;top:2.6px;transform:scaleX(0.875)">Colombia</div>
<div class="d R n" style="right:449.8px;top:2.35px">-4.7</div>
<div class="d R n" style="right:340.6px;top:2.35px">-4.4</div>
<div class="d R n" style="right:248.6px;top:2.35px">12.5</div>
<div class="d R n" style="right:146.0px;top:2.35px">277</div>
<div class="d R n" style="right:73.0px;top:2.35px">4,835</div>
<div class="d R n" style="right:7.2px;top:2.35px">-20.5</div>
</div>
<div class="r" style="top:658.34px">
<div class="c" style="left:127.8px;width:37.2px;background:#fac2ab"></div>
<div class="c" style="left:237.6px;width:36.5px;background:#fac2ab"></div>
<div class="c" style="left:329.2px;width:36.5px;background:#aecde0"></div>
<div class="c" style="left:570.6px;width:36.4px;background:#aecde0"></div>
<div class="d L" style="left:6.1px;top:2.6px;transform:scaleX(0.875)">Mexico</div>
<div class="d R n" style="right:449.8px;top:2.35px">-1.1</div>
<div class="d R n" style="right:340.6px;top:2.35px">-3.8</div>
<div class="d R n" style="right:248.6px;top:2.35px">9.0</div>
<div class="d R n" style="right:146.0px;top:2.35px">38.0</div>
<div class="d R n" style="right:73.0px;top:2.35px">19.0</div>
<div class="d R n" style="right:7.2px;top:2.35px">10.2</div>
</div>
<div class="r s" style="top:673.71px">
<div class="c" style="left:127.8px;width:37.2px;background:#fac2ab"></div>
<div class="c" style="left:237.6px;width:36.5px;background:#fac2ab"></div>
<div class="c" style="left:329.2px;width:36.5px;background:#aecde0"></div>
<div class="c" style="left:570.6px;width:36.4px;background:#fac2ab"></div>
<div class="d L" style="left:6.1px;top:2.6px;transform:scaleX(0.875)">Peru</div>
<div class="d R n" style="right:449.8px;top:2.35px">-3.3</div>
<div class="d R n" style="right:340.6px;top:2.35px">-1.6</div>
<div class="d R n" style="right:248.6px;top:2.35px">8.0</div>
<div class="d R n" style="right:146.0px;top:2.35px">135</div>
<div class="d R n" style="right:73.0px;top:2.35px">3.80</div>
<div class="d R n" style="right:7.2px;top:2.35px">-1.6</div>
</div>
<div class="r" style="top:689.08px">
<div class="c" style="left:127.8px;width:37.2px;background:#fac2ab"></div>
<div class="c" style="left:237.6px;width:36.5px;background:#fac2ab"></div>
<div class="c" style="left:570.6px;width:36.4px;background:#fac2ab"></div>
<div class="d L" style="left:6.1px;top:2.6px;transform:scaleX(0.875)">Egypt</div>
<div class="d R n" style="right:449.8px;top:2.35px">-2.9</div>
<div class="d R n" style="right:340.6px;top:2.35px">-6.5</div>
<div class="d R n" style="right:248.6px;top:2.35px">na</div>
<div class="d R n" style="right:146.0px;top:2.35px">na</div>
<div class="d R n" style="right:73.0px;top:2.35px">30.9</div>
<div class="d R n" style="right:7.2px;top:2.35px">-49.2</div>
</div>
<div class="r s" style="top:704.45px">
<div class="c" style="left:127.8px;width:37.2px;background:#aecde0"></div>
<div class="c" style="left:237.6px;width:36.5px;background:#fac2ab"></div>
<div class="c" style="left:329.2px;width:36.5px;background:#aecde0"></div>
<div class="c" style="left:570.6px;width:36.4px;background:#fac2ab"></div>
<div class="d L" style="left:6.1px;top:2.6px;transform:scaleX(0.875)">Israel</div>
<div class="d R n" style="right:449.8px;top:2.35px">4.0</div>
<div class="d R n" style="right:340.6px;top:2.35px">-2.3</div>
<div class="d R n" style="right:248.6px;top:2.35px">3.7</div>
<div class="d R n" style="right:146.0px;top:2.35px">158</div>
<div class="d R n" style="right:73.0px;top:2.35px">3.63</div>
<div class="d R n" style="right:7.2px;top:2.35px">-9.6</div>
</div>
<div class="r" style="top:719.82px">
<div class="c" style="left:127.8px;width:37.2px;background:#aecde0"></div>
<div class="c" style="left:237.6px;width:36.5px;background:#aecde0"></div>
<div class="c" style="left:570.6px;width:36.4px;background:#fac2ab"></div>
<div class="d L" style="left:6.1px;top:2.6px;transform:scaleX(0.875)">Saudi Arabia</div>
<div class="d R n" style="right:449.8px;top:2.35px">6.5</div>
<div class="d R n" style="right:340.6px;top:2.35px">1.6</div>
<div class="d R n" style="right:248.6px;top:2.35px">na</div>
<div class="d R n" style="right:146.0px;top:2.35px">na</div>
<div class="d R n" style="right:73.0px;top:2.35px">3.76</div>
<div class="d R n" style="right:7.2px;top:2.35px">-0.3</div>
</div>
<div class="r s" style="top:735.19px">
<div class="c" style="left:127.8px;width:37.2px;background:#fac2ab"></div>
<div class="c" style="left:237.6px;width:36.5px;background:#fac2ab"></div>
<div class="c" style="left:329.2px;width:36.5px;background:#aecde0"></div>
<div class="c" style="left:570.6px;width:36.4px;background:#fac2ab"></div>
<div class="d L" style="left:6.1px;top:2.6px;transform:scaleX(0.875)">South Africa</div>
<div class="d R n" style="right:449.8px;top:2.35px">-1.9</div>
<div class="d R n" style="right:340.6px;top:2.35px">-4.8</div>
<div class="d R n" style="right:248.6px;top:2.35px">10.1</div>
<div class="d R n" style="right:146.0px;top:2.35px">25.0</div>
<div class="d R n" style="right:73.0px;top:2.35px">18.4</div>
<div class="d R n" style="right:7.2px;top:2.35px">-18.0</div>
</div>
<div class="bl" style="top:748.94px"></div>
<div class="hl" style="top:88.7px;height:1px;background:#727272"></div>
<div class="gl" style="top:165px;height:1px;background:#727272"></div>
<div class="gl" style="top:303px;height:2px;background:#959595"></div>
<div class="gl" style="top:426px;height:2px;background:#959595"></div>
<div class="gl" style="top:595px;height:2px;background:#959595"></div>
<div class="gl" style="top:687px;height:2px;background:#959595"></div>
<div class="t L" style="left:0px;top:755.0px;font-size:11.4px;color:#606060;transform:scaleX(0.83)">Source: Haver Analytics. <span style="font-size:8.5px;vertical-align:2.5px;margin-left:2px">§§</span>5-year yield. <span style="font-size:9px;vertical-align:2.5px">†††</span>Dollar-denominated bonds.</div>
<div class="t L" style="left:0.4px;top:789.2px;font-family:'Liberation Serif',serif;font-weight:bold;font-size:12px;color:#999;transform:scaleX(0.99)">The Economist</div>
</div></body></html>
